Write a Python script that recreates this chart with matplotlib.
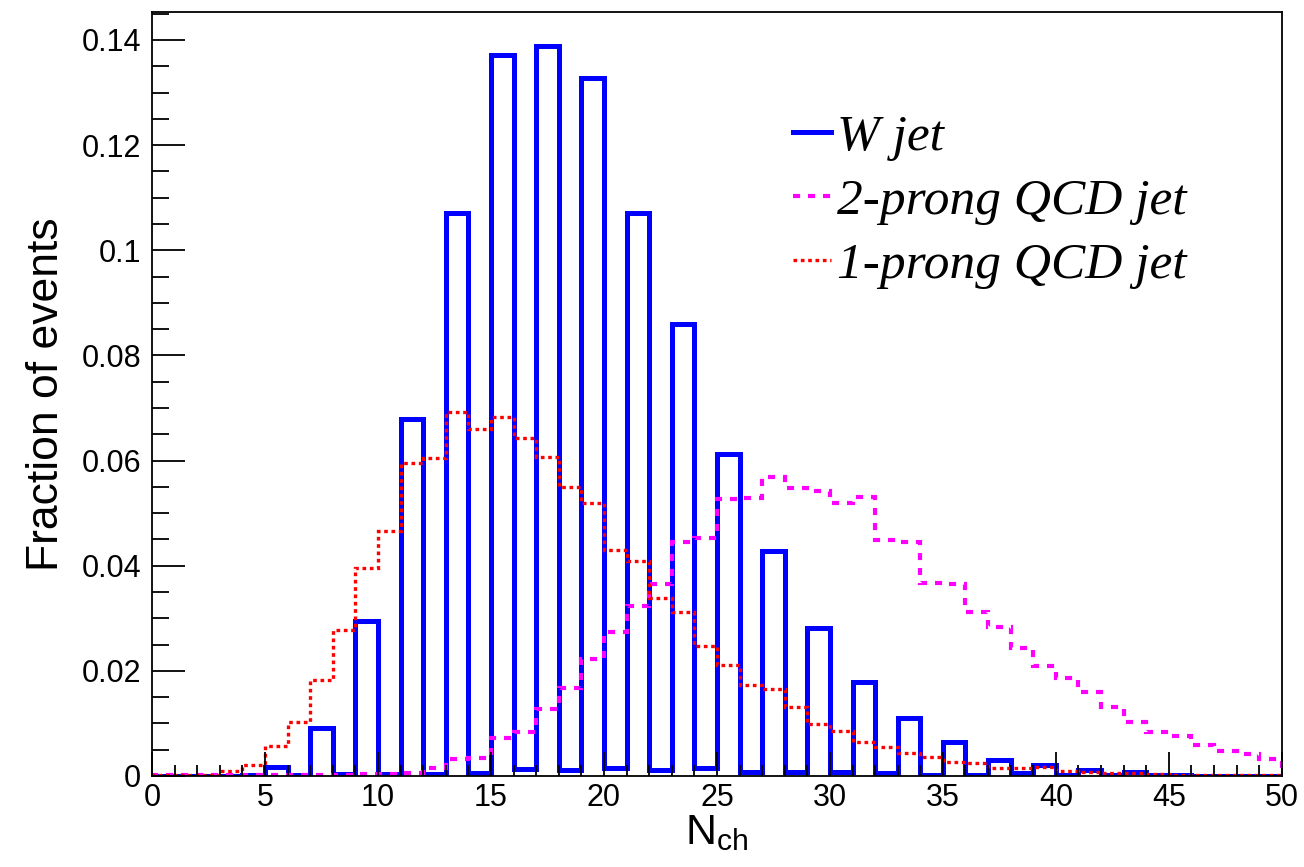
import matplotlib
matplotlib.use("Agg")
import matplotlib.pyplot as plt
import numpy as np
from matplotlib.ticker import MultipleLocator

plt.rcParams['font.family'] = ['Liberation Sans', 'DejaVu Sans']
plt.rcParams['mathtext.fontset'] = 'custom'
plt.rcParams['mathtext.rm'] = 'Liberation Sans'

# bin edges 0..50, width 1
edges = np.arange(0, 51)

w_jet = [0.0, 0.0, 0.0, 0.0, 0.0001, 0.0017, 0.0001, 0.0091, 0.0003, 0.0295,
         0.0003, 0.0679, 0.0004, 0.1071, 0.0006, 0.1372, 0.0013, 0.1389, 0.0012, 0.1328,
         0.0015, 0.1071, 0.0012, 0.0860, 0.0015, 0.0613, 0.0008, 0.0428, 0.0008, 0.0282,
         0.0007, 0.0179, 0.0005, 0.0110, 0.0002, 0.0065, 0.0002, 0.0030, 0.0005, 0.0021,
         0.0002, 0.0011, 0.0001, 0.0008, 0.0001, 0.0001, 0.0, 0.0, 0.0, 0.0]

qcd_2prong = [0.0001, 0.0001, 0.0001, 0.0001, 0.0001, 0.0001, 0.0001, 0.0001, 0.0001, 0.0003,
              0.0004, 0.0006, 0.0015, 0.0032, 0.0035, 0.0072, 0.0084, 0.0127, 0.0168, 0.0222,
              0.0274, 0.0324, 0.0365, 0.0446, 0.0453, 0.0527, 0.0528, 0.0568, 0.0547, 0.0542,
              0.0520, 0.0530, 0.0448, 0.0446, 0.0368, 0.0365, 0.0311, 0.0284, 0.0243, 0.0210,
              0.0186, 0.0159, 0.0131, 0.0103, 0.0083, 0.0076, 0.0059, 0.0048, 0.0042, 0.0032]

qcd_1prong = [0.0001, 0.0001, 0.0002, 0.0010, 0.0021, 0.0057, 0.0103, 0.0183, 0.0278, 0.0395,
              0.0466, 0.0595, 0.0605, 0.0692, 0.0660, 0.0682, 0.0642, 0.0606, 0.0550, 0.0519,
              0.0430, 0.0408, 0.0338, 0.0311, 0.0248, 0.0211, 0.0173, 0.0165, 0.0132, 0.0098,
              0.0086, 0.0065, 0.0056, 0.0044, 0.0036, 0.0027, 0.0024, 0.0015, 0.0015, 0.0017,
              0.0010, 0.0008, 0.0005, 0.0005, 0.0003, 0.0002, 0.0001, 0.0001, 0.0001, 0.0001]

fig = plt.figure(figsize=(13.04, 8.67), dpi=100)
ax = fig.add_axes([0.1166, 0.105, 0.8664, 0.881])

ax.stairs(w_jet, edges, color='#0000ff', lw=3.6, label='W jet')
ax.stairs(qcd_2prong, edges, color='#ff00ff', lw=3, linestyle=(0, (1.7, 1.9)),
          label='2-prong QCD jet')
ax.stairs(qcd_1prong, edges, color='#ff0000', lw=2.4, linestyle=(0, (1.1, 1.1)),
          label='1-prong QCD jet')

ax.set_xlim(0, 50)
ax.set_ylim(0, 0.1453)
ax.xaxis.set_major_locator(MultipleLocator(5))
ax.xaxis.set_minor_locator(MultipleLocator(1))
ax.yaxis.set_major_locator(MultipleLocator(0.02))
ax.yaxis.set_minor_locator(MultipleLocator(0.005))
ax.set_yticks([0, 0.02, 0.04, 0.06, 0.08, 0.1, 0.12, 0.14])
ax.set_yticklabels(['0', '0.02', '0.04', '0.06', '0.08', '0.1', '0.12', '0.14'])

ax.tick_params(axis='both', which='both', direction='in', labelsize=22, width=1.3)
ax.tick_params(axis='y', which='major', length=24, pad=8)
ax.tick_params(axis='y', which='minor', length=12)
ax.tick_params(axis='x', which='major', length=17, pad=5)
ax.tick_params(axis='x', which='minor', length=8)
for s in ax.spines.values():
    s.set_linewidth(1.3)

ax.set_ylabel('Fraction of events', fontsize=32, labelpad=10)
ax.set_xlabel(r'N$_{\mathrm{ch}}$', fontsize=31, labelpad=0)

leg = ax.legend(loc='upper left', bbox_to_anchor=(0.567, 0.866), frameon=False,
                prop={'family': 'Liberation Serif', 'style': 'italic', 'size': 37},
                handlelength=0.75, handletextpad=0.12, labelspacing=0.33,
                borderaxespad=0, borderpad=0)

fig.savefig('out.png', dpi=100)
